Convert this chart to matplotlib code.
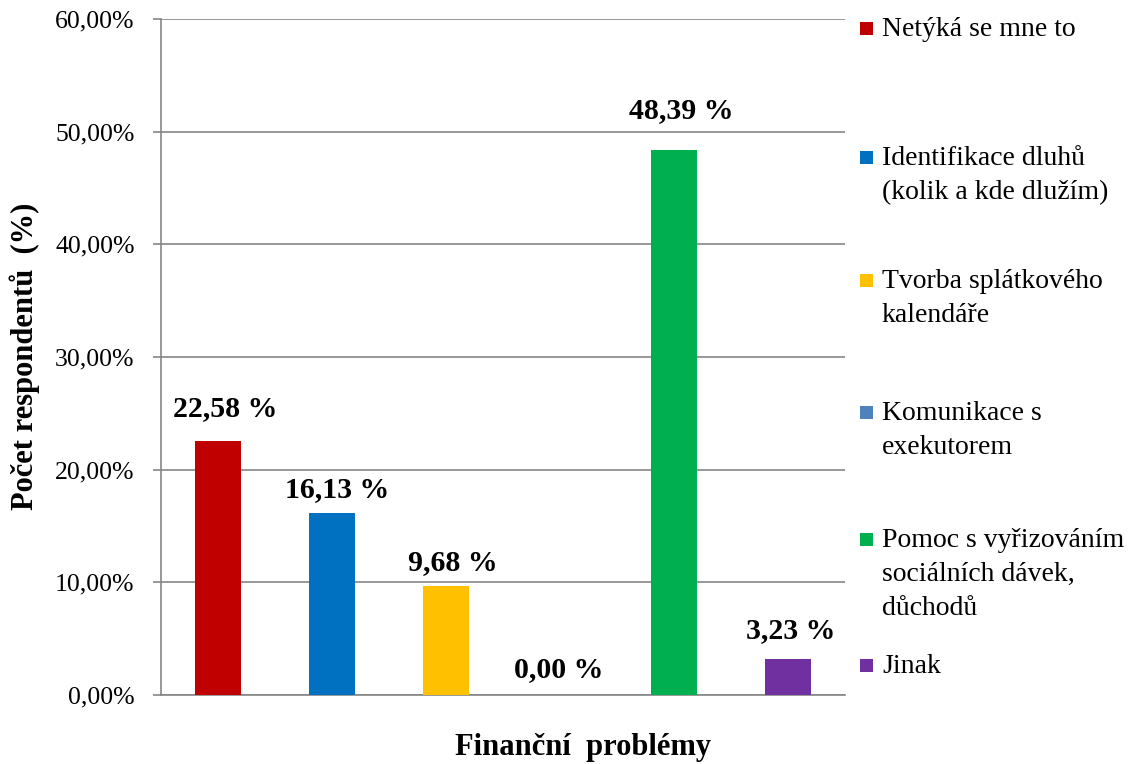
import matplotlib
matplotlib.use("Agg")
import matplotlib.pyplot as plt
from matplotlib.patches import Rectangle

# Data
categories = [
    "Netýká se mne to",
    "Identifikace dluhů\n(kolik a kde dlužím)",
    "Tvorba splátkového\nkalendáře",
    "Komunikace s\nexekutorem",
    "Pomoc s vyřizováním\nsociálních dávek,\ndůchodů",
    "Jinak",
]
values = [22.58, 16.13, 9.68, 0.00, 48.39, 3.23]
colors = ["#C00000", "#0070C0", "#FFC000", "#4F81BD", "#00B050", "#7030A0"]
y_ticks = [0, 10, 20, 30, 40, 50, 60]
y_tick_labels = ["0,00%", "10,00%", "20,00%", "30,00%", "40,00%", "50,00%", "60,00%"]

# Label offsets (points) relative to bar top
label_dx = [5, 3.6, 5, -1, 5, 2]
label_dy = [18, 11.5, 11.5, 13, 23, 15]

# Legend entry first-line baselines (pixels from top) and line step
legend_baselines = [36, 165, 288, 420, 547, 673]
line_step = 34

W, H, DPI = 1137, 764, 100
plt.rcParams["font.family"] = ["Liberation Serif", "DejaVu Serif"]

fig = plt.figure(figsize=(W / DPI, H / DPI), dpi=DPI)
ax = fig.add_axes([161 / W, 1 - 695 / H, 684 / W, 676 / H])

grid_col = "#868686"
x = list(range(len(values)))
ax.bar(x, values, width=0.4, color=colors, zorder=3)

ax.set_xlim(-0.5, len(values) - 0.5)
ax.set_ylim(0, 60)
ax.set_yticks(y_ticks)
ax.set_yticklabels(y_tick_labels, fontsize=18.5)
ax.set_xticks([])
ax.yaxis.grid(True, color=grid_col, linewidth=1.2, zorder=0)
ax.tick_params(axis="y", length=6, width=1.2, color=grid_col, pad=13)

for side in ["top", "right"]:
    ax.spines[side].set_visible(False)
for side in ["left", "bottom"]:
    ax.spines[side].set_color(grid_col)
    ax.spines[side].set_linewidth(1.2)

for i, v in enumerate(values):
    txt = f"{v:.2f}".replace(".", ",") + " %"
    ax.annotate(txt, xy=(i, v), xytext=(label_dx[i], label_dy[i]),
                textcoords="offset points", ha="center", va="baseline",
                fontsize=21.5, fontweight="bold", zorder=4)

# Axis titles
fig.text(583 / W, 1 - 748 / H, "Finanční  problémy", ha="center", va="center",
         fontsize=22, fontweight="bold")
fig.text(25 / W, 1 - 356 / H, "Počet respondentů  (%)", ha="center", va="center",
         rotation=90, fontsize=22, fontweight="bold")

# Legend: square beside the first line, text lines stacked below
for name, col, yb in zip(categories, colors, legend_baselines):
    fig.patches.append(Rectangle((860 / W, 1 - (yb - 1) / H), 13 / W, 13 / H,
                                 transform=fig.transFigure, facecolor=col,
                                 edgecolor="none"))
    for k, line in enumerate(name.split("\n")):
        fig.text(882 / W, 1 - (yb + k * line_step) / H, line, ha="left",
                 va="baseline", fontsize=20)

fig.savefig("out.png", dpi=DPI)
